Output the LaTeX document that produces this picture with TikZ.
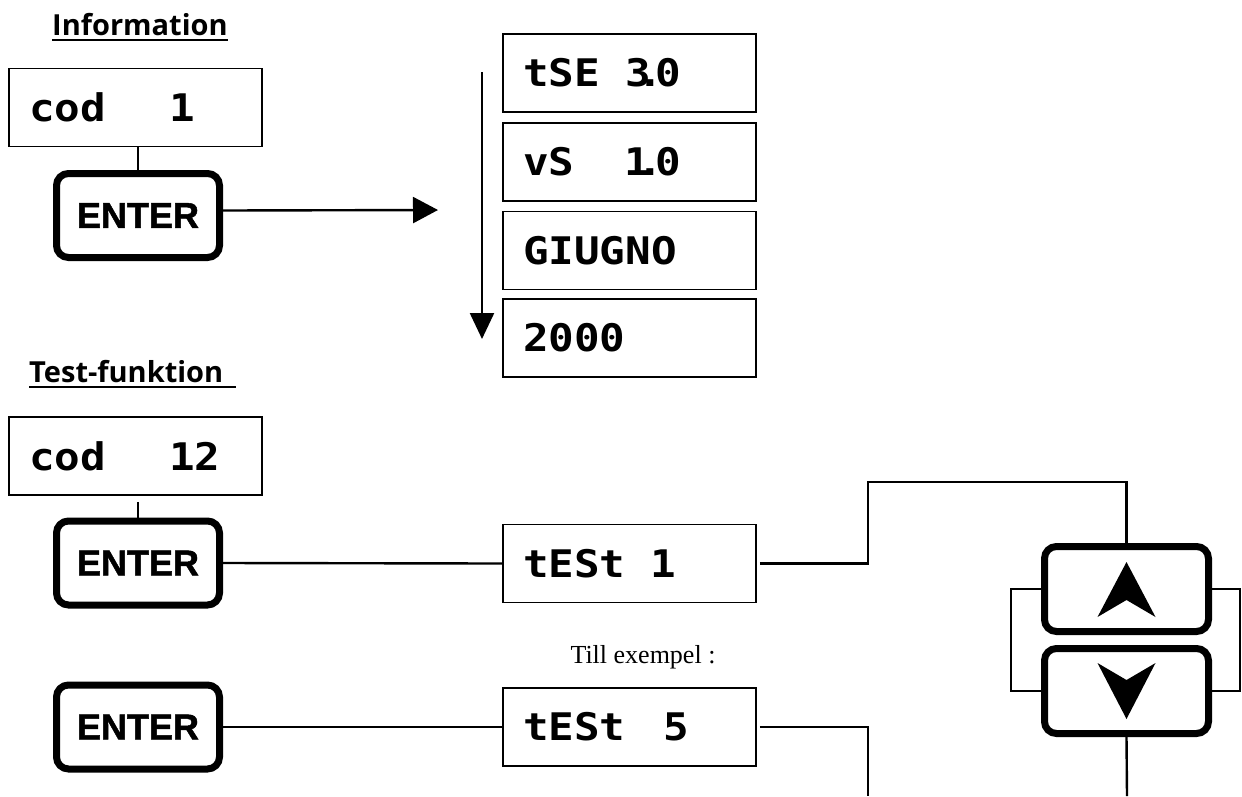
\documentclass[tikz,border=0pt]{standalone}
\usepackage{fontspec}
\setmainfont{Liberation Serif}
\newfontfamily\lcdfont[FakeStretch=1.12]{DejaVu Sans Mono}
\newfontfamily\keyfont[BoldFeatures={FakeBold=1.3}]{Liberation Sans}
\newfontfamily\headfont{Open Sans}
\usepackage{xcolor}
\usepackage{tikz}
\usetikzlibrary{arrows.meta}
\definecolor{ink}{HTML}{000000}
\tikzset{
  lcdbox/.style={draw=ink, line width=1.8pt, text width=213pt, align=left, inner xsep=20pt,
    minimum height=78pt, font=\lcdfont\bfseries\fontsize{38}{40}\selectfont},
  enterkey/.style={draw=ink, line width=7pt, rounded corners=12pt, minimum width=163pt,
    minimum height=84pt, font=\keyfont\bfseries\fontsize{36}{40}\selectfont},
  arrowkey/.style={draw=ink, line width=7pt, rounded corners=12pt, minimum width=164pt, minimum height=85pt},
  head/.style={anchor=base west, inner xsep=0pt, inner ysep=5pt, font=\headfont\bfseries\fontsize{29}{33}\selectfont},
  uline/.style={draw=ink, line width=2pt},
  wire/.style={draw=ink, line width=2.4pt},
  sidewire/.style={draw=ink, line width=1.6pt},
  note/.style={text=ink, font=\fontsize{26}{30}\selectfont}
}

\begin{document}
\begin{tikzpicture}[x=1pt, y=-1pt]
  \def\lcddot{\kern-.35em.\kern-.2em}
  \useasboundingbox (0,0) rectangle (1242,796);
  % information
  \node[head] (infohead) at (52,35) {Information};
  \draw[uline] (infohead.south west) -- (infohead.south east);
  \node[lcdbox] (cod1) at (135.5,107.5) {cod~~~~~1};
  \node[enterkey] (key1) at (138,215.5) {ENTER};
  \draw[wire] (key1.north |- cod1.south) -- (key1.north);
  \coordinate (infoend) at (438,210);
  \draw[wire, -{Triangle[length=25pt, width=26pt]}] ([yshift=5pt]key1.east) -- (infoend);
  \node[lcdbox] (tse) at (629.5,73) {tSE~~3\lcddot0};
  \node[lcdbox] (vs) at (629.5,162) {vS~~~~1\lcddot0};
  \node[lcdbox] (giugno) at (629.5,250.5) {GIUGNO};
  \node[lcdbox] (year) at (629.5,338) {2000};
  \coordinate (scrtop) at (482,72);
  \coordinate (scrend) at (482,339);
  \draw[wire, -{Triangle[length=26pt, width=24pt]}] (scrtop) -- (scrend);
  % test
  \node[head] (testhead) at (29,382) {Test-funktion};
  \draw[uline, shorten >=-13pt] (testhead.south west) -- (testhead.south east);
  \node[lcdbox] (cod12) at (135.5,456) {cod~~~~~12};
  \node[enterkey] (key2) at (138,563) {ENTER};
  \draw[wire, shorten <=6pt] (key2.north |- cod12.south) -- (key2.north);
  \node[lcdbox] (test1) at (629.5,563.5) {tESt~~1};
  \draw[wire] (key2.east) -- (test1.west);
  \node[note] (example) at (643,657) {Till exempel :};
  \node[enterkey] (key3) at (138,727) {ENTER};
  \node[lcdbox] (test5) at (629.5,727) {tESt~~~5};
  \draw[wire] (key3.east) -- (test5.west);
  % up / down
  \node[arrowkey] (up) at (1126.5,589) {};
  \node[arrowkey] (down) at (1126.5,691) {};
  \fill[ink, shift={(up.center)}] (0,-27) -- (29,28) -- (0,11) -- (-29,28) -- cycle;
  \fill[ink, shift={(down.center)}] (0,28) -- (29,-28) -- (0,-11) -- (-29,-28) -- cycle;
  \coordinate (bend) at (868,482);
  \coordinate (tail5) at (868,796);
  \coordinate (taildown) at (1127,796);
  \draw[wire, shorten <=3pt] (test1.east) -| (bend) -| (up.north);
  \draw[wire, shorten <=3pt] (test5.east) -| (tail5);
  \draw[wire] (down.south) -- (taildown);
  \draw[sidewire] (up.west) -- ++(-30,0) |- (down.west);
  \draw[sidewire] (up.east) -- ++(28,0) |- (down.east);
\end{tikzpicture}
\end{document}
